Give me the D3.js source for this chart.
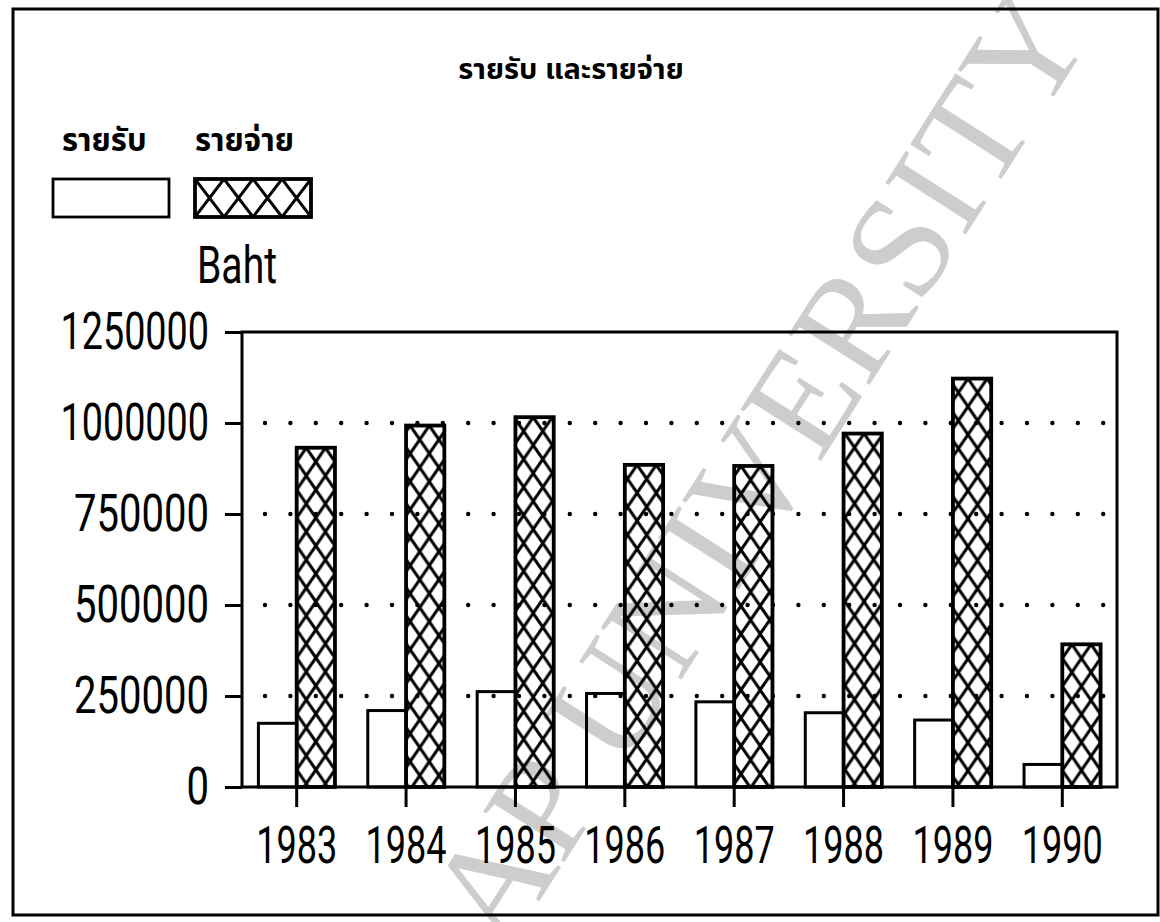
<!DOCTYPE html>
<html>
<head>
<meta charset="utf-8">
<script src="https://cdn.jsdelivr.net/npm/d3@7"></script>
<style>
    body { margin: 0; background: #ffffff; }
    svg { display: block; }
    .num { font-family: 'Roboto', 'DejaVu Sans Condensed', sans-serif; font-weight: 400; font-size: 51px; fill: #000; }
    .thai { font-family: 'Noto Sans Thai', 'Noto Sans Thai UI', 'Noto Sans', sans-serif; font-weight: bold; fill: #000; }
</style>
</head>
<body>
<svg id="chart" width="1160" height="922"></svg>
<script>
'use strict';

// data
var years = ['1983', '1984', '1985', '1986', '1987', '1988', '1989', '1990'];
var income = [175000, 210000, 262000, 257000, 234000, 204000, 184000, 62000];
var expense = [932000, 993000, 1016000, 885000, 882000, 971000, 1122000, 392000];
var yTicks = [0, 250000, 500000, 750000, 1000000, 1250000];
var gridTicks = [250000, 500000, 750000, 1000000];

var titleText = 'รายรับ และรายจ่าย';
var seriesNames = ['รายรับ', 'รายจ่าย'];
var unitText = 'Baht';
var watermarkText = 'AP UNIVERSITY';

var svg = d3.select('#chart');
var defs = svg.append('defs');

var plot = {left: 242, right: 1117, top: 332, bottom: 787};

var x0 = d3.scaleBand()
    .domain(years)
    .range([plot.left, plot.right])
    .paddingInner(0.3)
    .paddingOuter(0.15);
var x1 = d3.scaleBand()
    .domain(['income', 'expense'])
    .range([0, x0.bandwidth()]);
var y = d3.scaleLinear()
    .domain([0, 1250000])
    .range([plot.bottom, plot.top]);

// the plotter font is narrow, "1" is thinner than the other digits
function numWidth(s) {
    var ones = s.split('').filter(function(c) { return c === '1'; }).length;
    return s.length * 22.5 - ones * 9;
}

// hatch pattern, one per rect so the X's line up with each bar
function addHatch(id, px, py, w, h) {
    var p = defs.append('pattern')
        .attr('id', id)
        .attr('patternUnits', 'userSpaceOnUse')
        .attr('x', px)
        .attr('y', py)
        .attr('width', w)
        .attr('height', h);
    p.append('path')
        .attr('d', 'M0,0L' + w + ',' + h + 'M' + w + ',0L0,' + h)
        .attr('stroke', '#000')
        .attr('stroke-width', 3)
        .attr('fill', 'none');
    return 'url(#' + id + ')';
}

// watermark
svg.append('text')
    .attr('transform', 'translate(1094,34) rotate(-57.4)')
    .attr('text-anchor', 'end')
    .style('font-family', "'Liberation Serif', 'DejaVu Serif', serif")
    .style('font-size', '146px')
    .style('fill', '#cdcdcd')
    .text(watermarkText);

// outer frame
svg.append('rect')
    .attr('x', 13)
    .attr('y', 9)
    .attr('width', 1145)
    .attr('height', 906)
    .attr('fill', 'none')
    .attr('stroke', '#000')
    .attr('stroke-width', 3);

// title
svg.append('text')
    .attr('class', 'thai')
    .attr('x', 571)
    .attr('y', 79)
    .attr('text-anchor', 'middle')
    .style('font-size', '29px')
    .text(titleText);

// legend
var legend = [
    {name: seriesNames[0], tx: 62, bx: 53, hatch: false},
    {name: seriesNames[1], tx: 195, bx: 195, hatch: true}
];
legend.forEach(function(d) {
    svg.append('text')
        .attr('class', 'thai')
        .attr('x', d.tx)
        .attr('y', 151)
        .style('font-size', '31px')
        .text(d.name);
    svg.append('rect')
        .attr('x', d.bx)
        .attr('y', 179)
        .attr('width', 116)
        .attr('height', 38)
        .attr('fill', d.hatch ? addHatch('hatch-legend', d.bx, 179, 29, 38) : 'none')
        .attr('stroke', '#000')
        .attr('stroke-width', d.hatch ? 3.8 : 2.8);
});

svg.append('text')
    .attr('class', 'num')
    .attr('x', 197)
    .attr('y', 283)
    .attr('textLength', 80)
    .attr('lengthAdjust', 'spacingAndGlyphs')
    .text(unitText);

// dotted grid lines
svg.append('g')
    .selectAll('line')
    .data(gridTicks)
    .enter()
    .append('line')
    .attr('x1', 265)
    .attr('x2', plot.right - 8)
    .attr('y1', function(d) { return y(d); })
    .attr('y2', function(d) { return y(d); })
    .attr('stroke', '#000')
    .attr('stroke-width', 4.4)
    .attr('stroke-linecap', 'round')
    .attr('stroke-dasharray', '0,25.4');

// bars
var groups = svg.append('g')
    .selectAll('g')
    .data(years)
    .enter()
    .append('g')
    .attr('transform', function(d) { return 'translate(' + x0(d) + ',0)'; });

groups.append('rect')
    .attr('x', x1('income'))
    .attr('y', function(d, i) { return y(income[i]); })
    .attr('width', x1.bandwidth())
    .attr('height', function(d, i) { return y(0) - y(income[i]); })
    .attr('fill', 'none')
    .attr('stroke', '#000')
    .attr('stroke-width', 3);

groups.append('rect')
    .attr('x', x1('expense'))
    .attr('y', function(d, i) { return y(expense[i]); })
    .attr('width', x1.bandwidth())
    .attr('height', function(d, i) { return y(0) - y(expense[i]); })
    .attr('fill', function(d, i) {
        return addHatch('hatch-' + i, x0(d) + x1('expense'), y(expense[i]), x1.bandwidth() / 2, 28);
    })
    .attr('stroke', '#000')
    .attr('stroke-width', 3.8);

// plot frame
svg.append('rect')
    .attr('x', plot.left)
    .attr('y', plot.top)
    .attr('width', plot.right - plot.left)
    .attr('height', plot.bottom - plot.top)
    .attr('fill', 'none')
    .attr('stroke', '#000')
    .attr('stroke-width', 3);

// axes
var yAxis = svg.append('g')
    .attr('transform', 'translate(' + plot.left + ',0)')
    .call(d3.axisLeft(y)
        .tickValues(yTicks)
        .tickFormat(d3.format('d'))
        .tickSize(17)
        .tickPadding(16));
yAxis.select('.domain').remove();
yAxis.selectAll('.tick line').attr('stroke-width', 3);
yAxis.selectAll('text')
    .attr('class', 'num')
    .attr('font-size', null)
    .attr('font-family', null)
    .attr('textLength', function(d) { return numWidth(String(d)); })
    .attr('lengthAdjust', 'spacingAndGlyphs');

var xAxis = svg.append('g')
    .attr('transform', 'translate(0,' + plot.bottom + ')')
    .call(d3.axisBottom(x0)
        .tickSize(20)
        .tickPadding(20));
xAxis.select('.domain').remove();
xAxis.selectAll('.tick line').attr('stroke-width', 3);
xAxis.selectAll('text')
    .attr('class', 'num')
    .attr('font-size', null)
    .attr('font-family', null)
    .attr('textLength', function(d) { return numWidth(d); })
    .attr('lengthAdjust', 'spacingAndGlyphs');
</script>
</body>
</html>
